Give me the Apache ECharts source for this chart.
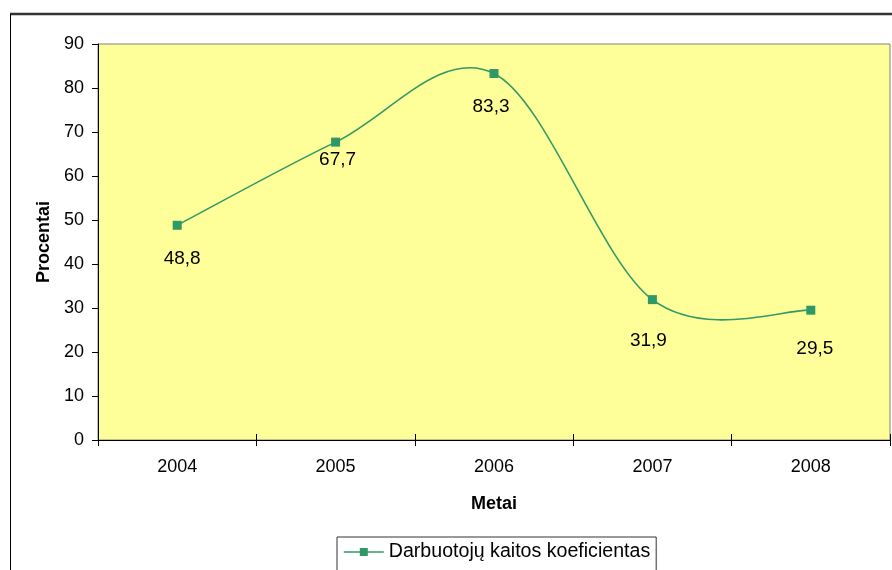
<!DOCTYPE html>
<html>
<head>
<meta charset="utf-8">
<script src="https://cdn.jsdelivr.net/npm/echarts@6/dist/echarts.min.js"></script>
<style>
  html, body { margin: 0; padding: 0; background: #ffffff; }
  #chart { width: 892px; height: 570px; }
</style>
</head>
<body>
<div id="chart"></div>
<script>
// Employee turnover rate by year
const years = ['2004', '2005', '2006', '2007', '2008'];
const turnover = [48.8, 67.7, 83.3, 31.9, 29.5];
const seriesName = 'Darbuotojų kaitos koeficientas';

// hand-placed nudges of the value labels, in pixels [dx, dy]
const labelNudge = [[5, 2], [2, -13], [-3, 2], [-4, 10], [4, 8]];

const FONT = '"Liberation Sans", Arial, sans-serif';
const LINE_COLOR = '#339966';
const chart = echarts.init(document.getElementById('chart'), null, { renderer: 'canvas' });

// Smooth curve through the points (Catmull-Rom as cubic Bezier segments)
function renderCurve(params, api) {
  if (params.dataIndex !== 0) return null;
  const pts = turnover.map((v, i) => api.coord([i, v]));
  const n = pts.length;
  const P = i => pts[Math.max(0, Math.min(n - 1, i))];
  let d = 'M' + pts[0][0] + ' ' + pts[0][1];
  for (let i = 0; i < n - 1; i++) {
    const p0 = P(i - 1), p1 = P(i), p2 = P(i + 1), p3 = P(i + 2);
    const c1 = [p1[0] + (p2[0] - p0[0]) / 6, p1[1] + (p2[1] - p0[1]) / 6];
    const c2 = [p2[0] - (p3[0] - p1[0]) / 6, p2[1] - (p3[1] - p1[1]) / 6];
    d += ' C' + c1[0] + ' ' + c1[1] + ' ' + c2[0] + ' ' + c2[1] + ' ' + p2[0] + ' ' + p2[1];
  }
  return {
    type: 'path',
    shape: { pathData: d },
    style: { fill: null, stroke: LINE_COLOR, lineWidth: 1.6 },
    silent: true
  };
}

chart.setOption({
  animation: false,
  backgroundColor: '#ffffff',
  textStyle: { fontFamily: FONT },
  graphic: [
    // outer chart frame
    { type: 'line', shape: { x1: 10, y1: 14, x2: 892, y2: 14 }, style: { stroke: '#333333', lineWidth: 2.5 } },
    { type: 'line', shape: { x1: 10.5, y1: 14, x2: 10.5, y2: 570 }, style: { stroke: '#000000', lineWidth: 1 } }
  ],
  grid: {
    left: 98, top: 44, width: 792, height: 396,
    show: true, backgroundColor: '#FFFF99', borderColor: '#808080', borderWidth: 1
  },
  legend: {
    show: true,
    left: 337, top: 537,
    padding: [5, 6, 14, 6],
    borderColor: '#333333', borderWidth: 1,
    itemWidth: 40, itemHeight: 10, itemGap: 4,
    lineStyle: { color: LINE_COLOR, width: 1.6, opacity: 1 },
    textStyle: { fontSize: 19.6, color: '#000000', fontFamily: FONT },
    data: [seriesName]
  },
  xAxis: [
    {
      type: 'category', data: years, boundaryGap: true, position: 'bottom',
      axisLine: { show: true, lineStyle: { color: '#000000', width: 1 } },
      axisTick: { show: true, length: 6, lineStyle: { color: '#000000' } },
      axisLabel: { margin: 18, fontSize: 18, color: '#000000', fontFamily: FONT },
      name: 'Metai', nameLocation: 'middle', nameGap: 55,
      nameTextStyle: { fontSize: 18, fontWeight: 'bold', color: '#000000', fontFamily: FONT },
      splitLine: { show: false }
    },
    {
      // inward half of the category tick marks
      type: 'category', data: years, boundaryGap: true, position: 'bottom',
      axisLine: { show: false },
      axisTick: { show: true, inside: true, length: 6, lineStyle: { color: '#000000' } },
      axisLabel: { show: false },
      splitLine: { show: false }
    }
  ],
  yAxis: {
    type: 'value', min: 0, max: 90, interval: 10,
    axisLine: { show: true, lineStyle: { color: '#000000', width: 1 } },
    axisTick: { show: true, length: 6, lineStyle: { color: '#000000' } },
    axisLabel: { margin: 14, fontSize: 18, color: '#000000', fontFamily: FONT },
    splitLine: { show: false },
    name: 'Procentai', nameLocation: 'middle', nameGap: 43, nameRotate: 90,
    nameTextStyle: { fontSize: 18, fontWeight: 'bold', color: '#000000', fontFamily: FONT }
  },
  series: [
    {
      type: 'custom',
      renderItem: renderCurve,
      data: turnover.map((v, i) => [i, v]),
      encode: { x: 0, y: 1 },
      z: 1,
      silent: true
    },
    {
      name: seriesName,
      type: 'line',
      data: turnover.map((v, i) => ({
        value: v,
        label: { offset: labelNudge[i] }
      })),
      symbol: 'rect',
      symbolSize: 9,
      z: 3,
      lineStyle: { color: LINE_COLOR, width: 1.6, opacity: 0 },
      itemStyle: { color: '#2E9966' },
      label: {
        show: true, position: 'bottom', distance: 17,
        fontSize: 19, color: '#000000', fontFamily: FONT,
        formatter: p => String(p.value).replace('.', ',')
      }
    }
  ]
});
</script>
</body>
</html>
